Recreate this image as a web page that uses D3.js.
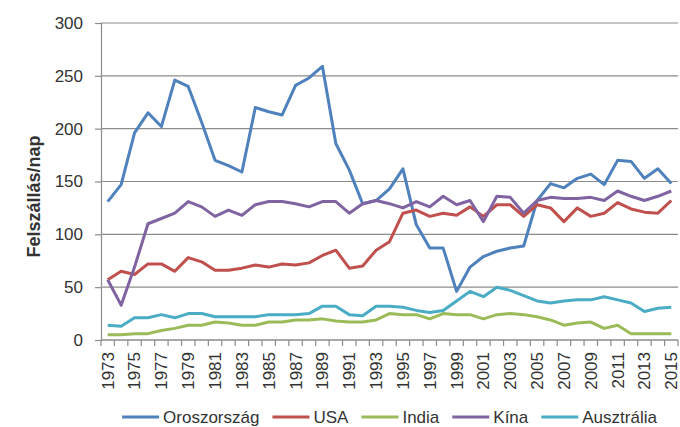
<!DOCTYPE html>
<html lang="hu">
<head>
    <meta charset="UTF-8">
    <title>Felszállás/nap</title>
    <script src="https://d3js.org/d3.v7.min.js"></script>
    <style>
        body {
            margin: 0;
            padding: 0;
            background-color: #fff;
            font-family: "Liberation Sans", Arial, sans-serif;
        }
        svg text {
            fill: #333;
        }
    </style>
</head>
<body>
    <svg width="680" height="427"></svg>
    <script>
        // Categories
        const years = [1973, 1974, 1975, 1976, 1977, 1978, 1979, 1980, 1981, 1982,
            1983, 1984, 1985, 1986, 1987, 1988, 1989, 1990, 1991, 1992,
            1993, 1994, 1995, 1996, 1997, 1998, 1999, 2000, 2001, 2002,
            2003, 2004, 2005, 2006, 2007, 2008, 2009, 2010, 2011, 2012,
            2013, 2014, 2015];

        // Tick labels
        const yearLabels = [1973, 1975, 1977, 1979, 1981, 1983, 1985, 1987, 1989, 1991,
            1993, 1995, 1997, 1999, 2001, 2003, 2005, 2007, 2009, 2011, 2013, 2015];
        const yTicks = [0, 50, 100, 150, 200, 250, 300];

        // Series values (launches per day)
        const oroszorszag = [131, 147, 196, 215, 202, 246, 240, 206, 170, 165,
            159, 220, 216, 213, 241, 248, 259, 186, 161, 129,
            132, 143, 162, 109, 87, 87, 46, 69, 79, 84,
            87, 89, 132, 148, 144, 153, 157, 147, 170, 169,
            153, 162, 148];
        const usa = [57, 65, 62, 72, 72, 65, 78, 74, 66, 66,
            68, 71, 69, 72, 71, 73, 80, 85, 68, 70,
            85, 93, 120, 123, 117, 120, 118, 126, 117, 128,
            128, 117, 128, 125, 112, 125, 117, 120, 130, 124,
            121, 120, 132];
        const india = [5, 5, 6, 6, 9, 11, 14, 14, 17, 16,
            14, 14, 17, 17, 19, 19, 20, 18, 17, 17,
            19, 25, 24, 24, 20, 25, 24, 24, 20, 24,
            25, 24, 22, 19, 14, 16, 17, 11, 14, 6,
            6, 6, 6];
        const kina = [57, 33, 69, 110, 115, 120, 131, 126, 117, 123,
            118, 128, 131, 131, 129, 126, 131, 131, 120, 129,
            132, 129, 125, 131, 126, 136, 128, 132, 112, 136,
            135, 120, 132, 135, 134, 134, 135, 132, 141, 136,
            132, 136, 141];
        const ausztralia = [14, 13, 21, 21, 24, 21, 25, 25, 22, 22,
            22, 22, 24, 24, 24, 25, 32, 32, 24, 23,
            32, 32, 31, 28, 26, 28, 37, 46, 41, 50,
            47, 42, 37, 35, 37, 38, 38, 41, 38, 35,
            27, 30, 31];

        const seriesNames = ["Oroszország", "USA", "India", "Kína", "Ausztrália"];
        const seriesValues = [oroszorszag, usa, india, kina, ausztralia];
        const seriesColors = ["#4f81bd", "#c0504d", "#9bbb59", "#8064a2", "#4bacc6"];

        const series = seriesNames.map((name, i) => ({
            name: name,
            color: seriesColors[i],
            values: seriesValues[i]
        }));

        const svg = d3.select("svg");
        const margin = { top: 23, right: 2, bottom: 87, left: 101 };
        const width = 680 - margin.left - margin.right;
        const height = 427 - margin.top - margin.bottom;

        const g = svg.append("g")
            .attr("transform", `translate(${margin.left},${margin.top})`);

        // Scales
        const x = d3.scaleBand()
            .domain(years)
            .range([0, width])
            .padding(0);
        const cx = d => x(d) + x.bandwidth() / 2;

        const y = d3.scaleLinear()
            .domain([0, 300])
            .range([height, 0]);

        // Gridlines
        g.append("g")
            .selectAll("line")
            .data(yTicks)
            .enter().append("line")
            .attr("x1", 0)
            .attr("x2", width)
            .attr("y1", d => y(d))
            .attr("y2", d => y(d))
            .attr("stroke", "#8c8c8c")
            .attr("stroke-width", 1.2);

        // Y axis
        const yAxis = g.append("g")
            .call(d3.axisLeft(y).tickValues(yTicks).tickSize(6).tickPadding(12));
        yAxis.select(".domain").attr("stroke", "#8c8c8c").attr("stroke-width", 1.2);
        yAxis.selectAll(".tick line").attr("stroke", "#8c8c8c").attr("stroke-width", 1.2);
        yAxis.selectAll("text")
            .style("font-size", "17px")
            .style("font-family", "'Liberation Sans', Arial, sans-serif")
            .attr("fill", "#333");

        // X axis: ticks between categories, labels every other year
        const xAxis = g.append("g")
            .attr("transform", `translate(0,${height})`);
        xAxis.append("line")
            .attr("x1", 0)
            .attr("x2", width)
            .attr("stroke", "#8c8c8c")
            .attr("stroke-width", 1.2);
        xAxis.selectAll(".xtick")
            .data(years.concat(["end"]))
            .enter().append("line")
            .attr("class", "xtick")
            .attr("x1", d => d === "end" ? width : x(d))
            .attr("x2", d => d === "end" ? width : x(d))
            .attr("y1", 0)
            .attr("y2", 6)
            .attr("stroke", "#8c8c8c")
            .attr("stroke-width", 1.2);
        xAxis.selectAll(".xlabel")
            .data(yearLabels)
            .enter().append("text")
            .attr("class", "xlabel")
            .attr("transform", d => `translate(${cx(d)},12) rotate(-90)`)
            .attr("dy", "0.35em")
            .attr("text-anchor", "end")
            .style("font-size", "17px")
            .text(d => d);

        // Y axis title
        svg.append("text")
            .attr("transform", `translate(40,${margin.top + y(150) + 15}) rotate(-90)`)
            .attr("text-anchor", "middle")
            .style("font-size", "18px")
            .style("font-weight", "bold")
            .attr("fill", "#222")
            .text("Felszállás/nap");

        // Lines
        const line = d3.line()
            .x((d, i) => cx(years[i]))
            .y(d => y(d));

        g.selectAll(".series")
            .data(series)
            .enter().append("path")
            .attr("class", "series")
            .attr("fill", "none")
            .attr("stroke", d => d.color)
            .attr("stroke-width", 3)
            .attr("stroke-linejoin", "round")
            .attr("d", d => line(d.values));

        // Legend, centred under the plot
        const legend = svg.append("g");
        const legendY = 417;
        let lx = 0;
        series.forEach(s => {
            const item = legend.append("g").attr("transform", `translate(${lx},0)`);
            item.append("line")
                .attr("x1", 0)
                .attr("x2", 37)
                .attr("y1", legendY)
                .attr("y2", legendY)
                .attr("stroke", s.color)
                .attr("stroke-width", 3);
            const t = item.append("text")
                .attr("x", 41)
                .attr("y", legendY)
                .attr("dy", "0.35em")
                .style("font-size", "17px")
                .text(s.name);
            lx += 41 + t.node().getComputedTextLength() + 13;
        });
        const legendWidth = lx - 13;
        legend.attr("transform", `translate(${margin.left + width / 2 - legendWidth / 2},0)`);
    </script>
</body>
</html>
